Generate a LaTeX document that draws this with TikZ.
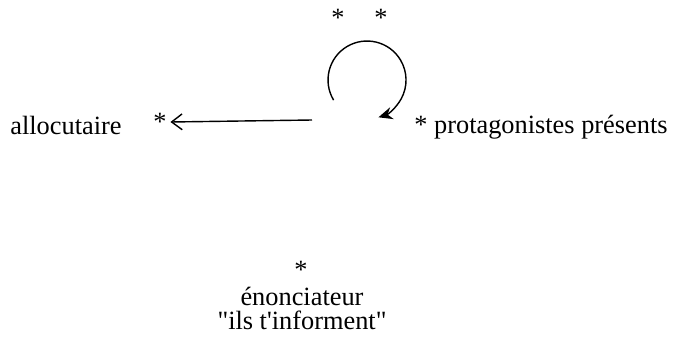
\documentclass[tikz,border=0pt]{standalone}
\usepackage{fontspec}
\setmainfont{Liberation Serif}[Ligatures=TeXOff]
\usetikzlibrary{arrows.meta,positioning}

\begin{document}
\begin{tikzpicture}[
		x=0.02cm, y=0.02cm,
		lbl/.style={inner sep=0pt, font=\fontsize{15}{18}\selectfont},
		arr/.style={-{Straight Barb[length=6pt,width=9pt]}, thick},
		loop/.style={-{Stealth[length=8pt,width=7pt]}, thick}
		]
		\useasboundingbox (0,0) rectangle (677,-342);
		
		% stars above the loop
		\node[lbl] (sa) at (338,-18) {*};
		\node[lbl] (sb) at (381,-18) {*};
		
		% left side
		\node[lbl, anchor=west] (alloc) at (10,-125) {allocutaire};
		\node[lbl] (sal) at (160,-122) {*};
		
		% right side
		\node[lbl, anchor=west] (prot) at (414,-127) {* protagonistes présents};
		
		% bottom
		\node[lbl] (sen) at (301,-270) {*};
		\node[lbl] (enon) at (302,-296) {énonciateur};
		\node[lbl] (ils) at (302,-320) {"ils t'informent"};
		
		% loop and arrow
		\coordinate (lp) at (333.6,-100.1);
		\coordinate (from) at (312,-120);
		\draw[loop] (lp) arc[start angle=211, end angle=-73, radius=39];
		\draw[arr] (from) -- ([xshift=2pt]sal.east);
	\end{tikzpicture}
\end{document}
